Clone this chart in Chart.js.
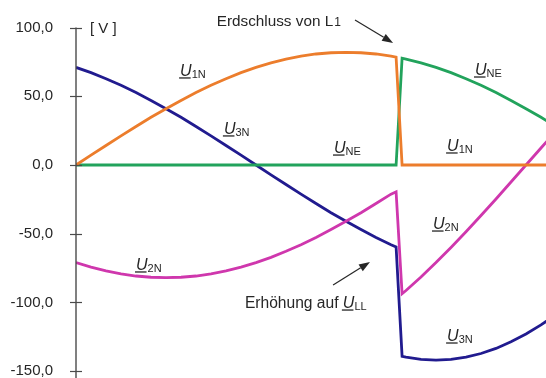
<!DOCTYPE html>
<html>
<head>
<meta charset="utf-8">
<script src="https://cdn.jsdelivr.net/npm/chart.js@4"></script>
<style>
html, body { margin: 0; padding: 0; background: #fff; }
#wrap { width: 546px; height: 378px; }
</style>
</head>
<body>
<div id="wrap"><canvas id="chart"></canvas></div>
<script>
// phase angle in degrees, the earth fault on L1 happens between 106.7 and 108.7
const angle = [0, 5, 10, 15, 20, 25, 30, 35, 40, 45, 50, 55, 60, 65, 70, 75, 80, 85, 90, 95, 100, 105, 106.7,
               108.7, 110, 115, 120, 125, 130, 135, 140, 145, 150, 155, 160];

// voltages in V
const u1n = [0, 7.2, 14.2, 21.2, 28.0, 34.7, 41.0, 47.0, 52.7, 58.0, 62.8, 67.2, 71.0, 74.3, 77.1, 79.2, 80.8, 81.7, 82.0, 81.7, 80.8, 79.2, 78.5,
             0, 0, 0, 0, 0, 0, 0, 0, 0, 0, 0, 0];
const une = [0, 0, 0, 0, 0, 0, 0, 0, 0, 0, 0, 0, 0, 0, 0, 0, 0, 0, 0, 0, 0, 0, 0,
             77.7, 77.1, 74.3, 71.0, 67.2, 62.8, 58.0, 52.7, 47.0, 41.0, 34.7, 28.0];
const u2n = [-71.0, -74.3, -77.1, -79.2, -80.8, -81.7, -82.0, -81.7, -80.8, -79.2, -77.1, -74.3, -71.0, -67.2, -62.8, -58.0, -52.7, -47.0, -41.0, -34.7, -28.0, -21.2, -19.5,
             -93.7, -91.3, -81.5, -71.0, -60.0, -48.6, -36.8, -24.7, -12.4, 0, 12.4, 24.7];
const u3n = [71.0, 67.2, 62.8, 58.0, 52.7, 47.0, 41.0, 34.7, 28.0, 21.2, 14.2, 7.2, 0, -7.2, -14.2, -21.2, -28.0, -34.7, -41.0, -47.0, -52.7, -58.0, -59.6,
             -139.3, -139.9, -141.5, -142.0, -141.5, -139.9, -137.2, -133.5, -128.7, -123.0, -116.4, -108.8];

const yTicks = [100, 50, 0, -50, -100, -150];

// curve names, placed at (angle, volts)
const curveLabels = [
    { t: 34.7, v: 64.8, sub: '1N' },
    { t: 49.3, v: 22.6, sub: '3N' },
    { t: 86.0, v: 8.7, sub: 'NE' },
    { t: 123.7, v: 10.2, sub: '1N' },
    { t: 133.0, v: 65.5, sub: 'NE' },
    { t: 20.0, v: -76.4, sub: '2N' },
    { t: 119.0, v: -46.6, sub: '2N' },
    { t: 123.7, v: -128.1, sub: '3N' }
];

const FONT = '"Liberation Sans", Arial, sans-serif';
const TEXT = '#262626';

function pts(values) {
    return angle.map((t, i) => ({ x: t, y: values[i] }));
}

function line(label, values, color) {
    return {
        label: label,
        data: pts(values),
        borderColor: color,
        borderWidth: 2.8,
        pointRadius: 0,
        tension: 0,
        fill: false
    };
}

function drawU(ctx, x, y, sub, size) {
    ctx.fillStyle = TEXT;
    ctx.strokeStyle = TEXT;
    ctx.textBaseline = 'alphabetic';
    ctx.textAlign = 'left';
    ctx.font = 'italic ' + size + 'px ' + FONT;
    const w = ctx.measureText('U').width;
    ctx.fillText('U', x, y);
    ctx.lineWidth = 1.3;
    ctx.beginPath();
    ctx.moveTo(x - 1, y + 2);
    ctx.lineTo(x + w - 1, y + 2);
    ctx.stroke();
    ctx.font = Math.round(size * 0.66) + 'px ' + FONT;
    ctx.fillText(sub, x + w, y + 2);
}

function arrow(ctx, x1, y1, x2, y2) {
    const a = Math.atan2(y2 - y1, x2 - x1);
    const len = 11, half = 4;
    ctx.strokeStyle = TEXT;
    ctx.fillStyle = TEXT;
    ctx.lineWidth = 1.2;
    ctx.beginPath();
    ctx.moveTo(x1, y1);
    ctx.lineTo(x2 - len * Math.cos(a), y2 - len * Math.sin(a));
    ctx.stroke();
    ctx.beginPath();
    ctx.moveTo(x2, y2);
    ctx.lineTo(x2 - len * Math.cos(a) + half * Math.sin(a), y2 - len * Math.sin(a) - half * Math.cos(a));
    ctx.lineTo(x2 - len * Math.cos(a) - half * Math.sin(a), y2 - len * Math.sin(a) + half * Math.cos(a));
    ctx.closePath();
    ctx.fill();
}

// axis line with crossing ticks, unit and the text notes
const overlay = {
    id: 'overlay',
    afterDraw(chart) {
        const { ctx, scales: { x, y } } = chart;
        const ax = chart.chartArea.left;
        ctx.save();
        ctx.strokeStyle = '#4a4a4a';
        ctx.lineWidth = 1.4;
        ctx.beginPath();
        ctx.moveTo(ax, y.getPixelForValue(100));
        ctx.lineTo(ax, chart.height);
        ctx.stroke();
        ctx.lineWidth = 1.2;
        yTicks.forEach(v => {
            const py = Math.round(y.getPixelForValue(v)) + 0.5;
            ctx.beginPath();
            ctx.moveTo(ax - 6, py);
            ctx.lineTo(ax + 6, py);
            ctx.stroke();
        });

        ctx.fillStyle = TEXT;
        ctx.font = '15px ' + FONT;
        ctx.textBaseline = 'middle';
        ctx.fillText('[ V ]', ax + 14, y.getPixelForValue(100) + 1);

        curveLabels.forEach(l => drawU(ctx, x.getPixelForValue(l.t), y.getPixelForValue(l.v), l.sub, 16));

        // Erdschluss von L1
        ctx.fillStyle = TEXT;
        ctx.textBaseline = 'alphabetic';
        ctx.textAlign = 'left';
        ctx.font = '15.3px ' + FONT;
        let tx = x.getPixelForValue(46.9), ty = y.getPixelForValue(101.2);
        ctx.fillText('Erdschluss von L', tx, ty);
        const w1 = ctx.measureText('Erdschluss von L').width;
        ctx.font = '12px ' + FONT;
        ctx.fillText('1', tx + w1 + 1, ty);
        arrow(ctx, x.getPixelForValue(93), y.getPixelForValue(105.5), x.getPixelForValue(105.7), y.getPixelForValue(88.8));

        // Erhoehung auf U_LL
        ctx.fillStyle = TEXT;
        ctx.font = '15.6px ' + FONT;
        tx = x.getPixelForValue(56.3);
        ty = y.getPixelForValue(-104.1);
        ctx.fillText('Erhöhung auf ', tx, ty);
        const w2 = ctx.measureText('Erhöhung auf ').width;
        drawU(ctx, tx + w2, ty, 'LL', 16);
        arrow(ctx, x.getPixelForValue(85.7), y.getPixelForValue(-87.3), x.getPixelForValue(98), y.getPixelForValue(-70.6));
        ctx.restore();
    }
};

new Chart(document.getElementById('chart'), {
    type: 'line',
    data: {
        datasets: [
            line('U1N', u1n, '#ec7d2c'),
            line('UNE', une, '#22a35c'),
            line('U2N', u2n, '#cf37ad'),
            line('U3N', u3n, '#211b8f')
        ]
    },
    options: {
        responsive: true,
        maintainAspectRatio: false,
        animation: false,
        events: [],
        layout: { padding: { top: 27.6, bottom: 6.9, left: 0, right: 0 } },
        plugins: {
            legend: { display: false },
            tooltip: { enabled: false }
        },
        scales: {
            x: {
                type: 'linear',
                display: false,
                min: 0,
                max: 156.67
            },
            y: {
                min: -150,
                max: 100,
                afterFit(scale) {
                    scale.width = 76;
                    scale.paddingTop = 0;
                    scale.paddingBottom = 0;
                },
                afterBuildTicks(scale) {
                    scale.ticks = yTicks.map(v => ({ value: v }));
                },
                grid: { display: false },
                border: { display: false },
                ticks: {
                    padding: 15,
                    color: TEXT,
                    font: { family: FONT, size: 15 },
                    callback: v => v.toFixed(1).replace('.', ',')
                }
            }
        }
    },
    plugins: [overlay]
});
</script>
</body>
</html>
